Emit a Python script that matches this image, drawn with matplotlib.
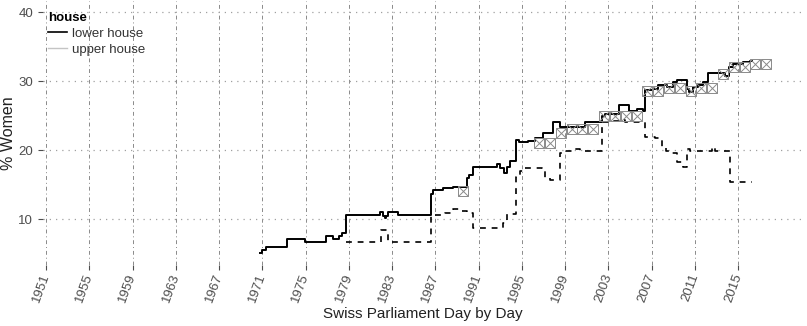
import matplotlib.pyplot as plt
from matplotlib.lines import Line2D

# women's share of seats, read day by day (decimal year, percent)
lower_year = [1970.79, 1970.97, 1971.34, 1973.28, 1974.95, 1976.89, 1977.54,
              1978.09, 1978.37, 1978.74, 1981.88, 1982.16, 1982.34, 1982.44,
              1982.62, 1983.54, 1986.60, 1986.78, 1987.70, 1988.63, 1989.92,
              1990.10, 1990.48, 1992.70, 1992.97, 1993.34, 1993.62, 1993.90,
              1994.45, 1994.73, 1995.56, 1996.20, 1996.95, 1997.88, 1998.52,
              2000.83, 2002.40, 2002.68, 2003.98, 2004.90, 2005.64, 2006.20,
              2006.38, 2007.12, 2007.58, 2008.41, 2008.97, 2009.34, 2010.26,
              2010.45, 2010.82, 2011.28, 2011.74, 2012.20, 2012.67, 2013.78,
              2014.15, 2014.52, 2015.44, 2015.81, 2016.09]
lower_pct = [5.1, 5.5, 6.0, 7.1, 6.6, 7.6, 7.1,
             7.6, 8.0, 10.6, 11.0, 10.5, 10.1, 10.5,
             11.0, 10.6, 13.6, 14.2, 14.5, 14.6, 16.0,
             16.4, 17.5, 18.0, 17.4, 16.7, 17.6, 18.4,
             21.4, 21.2, 21.3, 21.7, 22.5, 24.1, 23.4,
             24.0, 25.0, 25.2, 26.5, 25.7, 25.9, 25.6,
             28.7, 28.9, 29.4, 29.2, 29.9, 30.2, 28.9,
             28.4, 29.2, 29.4, 29.8, 31.1, 31.2, 30.7,
             32.1, 32.5, 32.7, 32.8, 32.9]

upper_year = [1978.74, 1981.97, 1982.62, 1986.60, 1987.89, 1988.63, 1989.28,
              1989.92, 1990.48, 1993.25, 1993.62, 1994.45, 1994.82, 1995.19,
              1996.86, 1997.14, 1997.60, 1998.52, 1998.98, 1999.91, 2000.37,
              2002.40, 2002.96, 2004.07, 2004.53, 2006.38, 2007.30, 2007.95,
              2008.32, 2008.88, 2009.34, 2009.90, 2010.26, 2010.54, 2012.58,
              2012.85, 2014.24]
upper_pct = [6.6, 8.4, 6.6, 10.6, 10.8, 11.4, 11.1,
             10.9, 8.7, 9.4, 10.7, 16.1, 16.9, 17.4,
             17.1, 15.9, 15.6, 19.5, 19.8, 20.1, 19.8,
             24.1, 24.2, 24.4, 24.1, 21.9, 21.8, 20.5,
             19.8, 19.6, 18.3, 17.5, 20.2, 19.8, 20.4,
             19.8, 15.4]

last_day = 2016.27

# yearly reference figures
survey_year = [1989.6, 1996.6, 1997.6, 1998.6, 1999.6, 2000.6, 2001.6, 2002.6,
               2003.6, 2004.6, 2005.6, 2006.6, 2007.6, 2008.6, 2009.6, 2010.6,
               2011.6, 2012.6, 2013.6, 2014.6, 2015.6, 2016.6, 2017.6]
survey_pct = [14.0, 21.0, 21.0, 22.5, 23.0, 23.0, 23.0, 25.0,
              25.0, 25.0, 25.0, 28.5, 28.5, 29.0, 29.0, 28.5,
              29.0, 29.0, 31.0, 32.0, 32.0, 32.5, 32.5]

tick_years = list(range(1951, 2016, 4))

plt.rcParams['font.family'] = ['Liberation Sans', 'DejaVu Sans']

fig = plt.figure(figsize=(8.07, 3.26), dpi=100)
ax = fig.add_axes([0.0533, 0.187, 0.9405, 0.810])

ax.plot(lower_year + [last_day], lower_pct + [lower_pct[-1]],
        drawstyle='steps-post', color='black', lw=1.4, zorder=3)
ax.plot(upper_year + [last_day], upper_pct + [upper_pct[-1]],
        drawstyle='steps-post', color='black', lw=1.2,
        dashes=(3.5, 3.5), zorder=3)

# boxed cross markers
ax.plot(survey_year, survey_pct, ls='none', marker='s', ms=7.8,
        mfc='none', mec='#8a8a8a', mew=0.7, zorder=4)
ax.plot(survey_year, survey_pct, ls='none', marker='x', ms=7.8,
        mec='#8a8a8a', mew=0.7, zorder=4)

ax.set_xlim(1950.72, 2020.9)
ax.set_ylim(3.33, 41.6)
ax.set_xticks(tick_years)
ax.set_xticklabels([str(y) for y in tick_years], rotation=70,
                   ha='right', va='center', rotation_mode='anchor')
ax.set_yticks([10, 20, 30, 40])

for s in ax.spines.values():
    s.set_visible(False)
ax.grid(axis='x', color='#8a8a8a', lw=0.7, dashes=(4, 3, 1, 3))
ax.grid(axis='y', color='#a0a0a0', lw=0.9, dashes=(1, 4))
ax.tick_params(axis='both', colors='#4d4d4d', labelsize=9.5,
               length=3.5, width=0.8)
ax.tick_params(axis='x', pad=3)

ax.set_xlabel('Swiss Parliament Day by Day', fontsize=11, color='#222222',
              labelpad=2)
ax.set_ylabel('% Women', fontsize=11.5, color='#222222')
ax.yaxis.set_label_coords(-0.036, 0.5)

handles = [Line2D([], [], color='black', lw=1.2),
           Line2D([], [], color='#c4c4c4', lw=1.0)]
leg = ax.legend(handles, ['lower house', 'upper house'], title='house',
                loc='upper left', bbox_to_anchor=(0.002, 0.975),
                frameon=False, fontsize=9.5, handlelength=1.4,
                handletextpad=0.35, labelspacing=0.3, borderpad=0.2,
                borderaxespad=0.1, alignment='left')
leg.get_title().set_fontweight('bold')
leg.get_title().set_fontsize(9.5)
for t in leg.get_texts():
    t.set_color('#333333')

fig.savefig('out.png', dpi=100)
